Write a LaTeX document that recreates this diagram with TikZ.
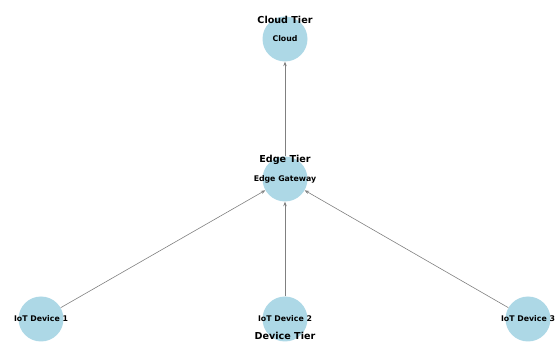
\documentclass[tikz,border=0pt]{standalone}
\usepackage{fontspec}
\setmainfont{DejaVu Sans}
\usetikzlibrary{arrows.meta, positioning}
\definecolor{nodeblue}{HTML}{ADD8E6}

\begin{document}
\begin{tikzpicture}[x=1pt, y=-1pt,
        tiernode/.style={circle, fill=nodeblue, inner sep=0pt, minimum size=45pt,
                label={[inner sep=0pt, font=\bfseries\fontsize{7.8}{8}\selectfont]center:#1}},
        tierlabel/.style={inner sep=0pt, font=\bfseries\fontsize{9.6}{10}\selectfont},
        link/.style={gray, line width=0.6pt, -{Stealth[length=4.5pt, width=3.5pt]}}]
        \useasboundingbox (0, 0) rectangle (558, 342);

        \node[tiernode=Cloud] (cloud) at (285, 39) {};
        \node[tiernode=Edge Gateway] (gw) at (285, 179) {};
        \node[tiernode=IoT Device 1] (dev1) at (41, 319) {};
        \node[tiernode=IoT Device 2] (dev2) at (285, 319) {};
        \node[tiernode=IoT Device 3] (dev3) at (528, 319) {};

        \draw[link] (gw) -- (cloud);
        \draw[link] (dev1) -- (gw);
        \draw[link] (dev2) -- (gw);
        \draw[link] (dev3) -- (gw);

        % tier names
        \node[tierlabel] (cloudtier) at (285, 20) {Cloud Tier};
        \node[tierlabel] (edgetier) at (285, 160) {Edge Tier};
        \node[tierlabel] (devtier) at (285, 336) {Device Tier};

      \end{tikzpicture}
\end{document}
